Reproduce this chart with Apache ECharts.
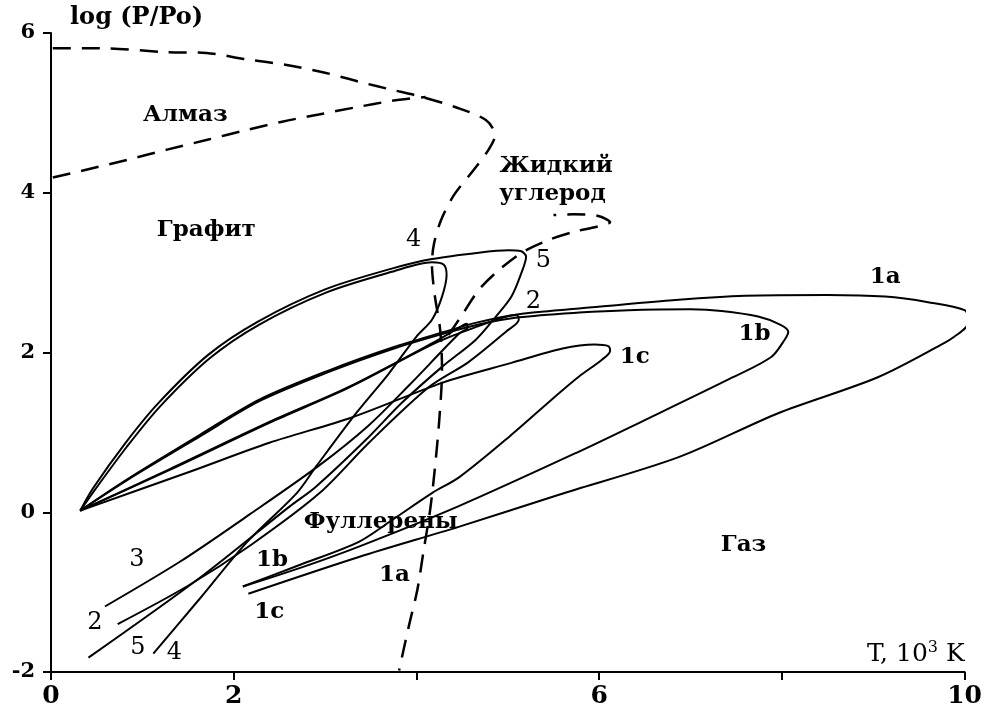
<!DOCTYPE html>
<html>
<head>
<meta charset="utf-8">
<title>Фазовая диаграмма углерода</title>
<script src="https://cdn.jsdelivr.net/npm/echarts@6/dist/echarts.min.js"></script>
<style>
  html, body { margin: 0; padding: 0; background: #fff; }
  #chart { width: 985px; height: 713px; }
</style>
</head>
<body>
<div id="chart"></div>
<script>
// x: T, 10^3 K ; y: log(P/Po)
const xLabelled = [0, 2, 6, 10]

// phase boundaries (dashed)
const boundaryMelt = [[0.02,5.81],[0.53,5.81],[1.27,5.76],[1.70,5.75],[2.14,5.67],[2.58,5.60],[3.01,5.50],[3.37,5.39],[3.73,5.29],[4.06,5.20],[4.43,5.07],[4.76,4.91],[4.86,4.72],[4.79,4.54],[4.63,4.29],[4.41,3.97],[4.27,3.66],[4.19,3.35],[4.17,3.10],[4.20,2.72],[4.26,2.28],[4.28,1.78],[4.25,1.16],[4.20,0.53],[4.15,0.03],[4.08,-0.47],[4.01,-0.97],[3.92,-1.41],[3.81,-1.98]]
const boundaryDiamond = [[0.02,4.19],[0.43,4.30],[0.83,4.41],[1.27,4.54],[1.70,4.66],[2.12,4.78],[2.53,4.89],[2.93,4.98],[3.34,5.07],[3.73,5.15],[4.10,5.20]]
const boundaryLiquid = [[4.35,2.22],[4.50,2.47],[4.68,2.78],[4.90,3.03],[5.17,3.26],[5.45,3.41],[5.72,3.51],[5.99,3.58],[6.12,3.63],[5.99,3.71],[5.72,3.73],[5.50,3.72]]

// trajectories (solid)
const curve1a = [[0.32,0.02],[0.83,0.41],[1.63,0.97],[2.28,1.41],[3.05,1.78],[3.73,2.06],[4.28,2.25],[4.68,2.38],[5.12,2.48],[5.78,2.55],[6.87,2.66],[7.60,2.71],[8.50,2.72],[9.13,2.70],[9.60,2.63],[10.0,2.53],[10.04,2.41],[10.01,2.31],[9.89,2.20],[9.78,2.12],[9.05,1.69],[7.96,1.24],[6.87,0.69],[5.56,0.22],[4.47,-0.18],[3.37,-0.56],[2.16,-1.02]]
const curve1b = [[0.32,0.02],[0.83,0.40],[1.63,0.95],[2.28,1.39],[3.05,1.76],[3.73,2.04],[4.28,2.23],[4.68,2.35],[5.12,2.44],[5.78,2.50],[6.32,2.53],[7.00,2.54],[7.34,2.52],[7.74,2.45],[7.98,2.35],[8.07,2.26],[8.03,2.16],[7.88,1.94],[7.41,1.66],[6.51,1.16],[5.78,0.76],[4.47,0.08],[3.37,-0.43],[2.72,-0.70],[2.10,-0.93]]
const curve1c = [[0.32,0.02],[1.55,0.52],[2.39,0.87],[3.30,1.19],[4.28,1.62],[5.04,1.87],[5.60,2.05],[5.95,2.10],[6.10,2.08],[6.12,2.02],[6.03,1.91],[5.78,1.70],[5.56,1.49],[5.01,0.94],[4.47,0.44],[4.17,0.24],[3.73,-0.10],[3.37,-0.37],[2.72,-0.66],[2.10,-0.93]]
const curve2 = [[0.32,0.02],[1.30,0.53],[2.39,1.12],[3.26,1.56],[4.21,2.12],[4.68,2.33],[4.96,2.44],[5.10,2.47],[5.12,2.41],[4.98,2.26],[4.57,1.88],[4.14,1.57],[3.48,0.87],[2.94,0.24],[2.20,-0.40],[1.50,-0.92],[0.73,-1.40]]
const curve3 = [[0.32,0.02],[1.30,0.54],[2.39,1.13],[3.26,1.57],[4.21,2.14],[4.45,2.30],[4.55,2.36],[4.56,2.31],[4.47,2.24],[3.92,1.59],[3.48,1.09],[2.94,0.59],[2.17,-0.03],[1.41,-0.62],[0.59,-1.18]]
const curve4 = [[0.32,0.02],[0.48,0.28],[0.83,0.82],[1.19,1.32],[1.74,1.93],[2.28,2.35],[3.01,2.75],[3.73,3.01],[4.17,3.13],[4.30,3.10],[4.33,2.97],[4.28,2.70],[4.17,2.41],[4.00,2.20],[3.70,1.74],[3.34,1.24],[2.90,0.57],[2.69,0.24],[2.14,-0.38],[1.63,-1.08],[1.12,-1.77]]
const curve5 = [[0.32,0.02],[0.46,0.30],[0.81,0.86],[1.17,1.36],[1.72,1.97],[2.27,2.39],[3.00,2.79],[3.73,3.05],[4.17,3.17],[4.68,3.25],[5.01,3.28],[5.14,3.27],[5.20,3.20],[5.15,3.00],[5.04,2.70],[4.87,2.45],[4.65,2.16],[4.28,1.82],[3.84,1.37],[3.45,0.91],[2.90,0.32],[2.61,0.07],[1.63,-0.82],[0.41,-1.82]]

// annotations [T, logP, text]
const regionNames = [[1.47,4.97,'Алмаз'],[1.70,3.53,'Графит'],[5.53,4.34,'Жидкий'],[5.49,3.98,'углерод'],[3.61,-0.12,'Фуллерены'],[7.58,-0.41,'Газ']]
const curveTags = [[9.13,2.95,'1a'],[7.70,2.23,'1b'],[6.39,1.94,'1c'],[2.42,-0.60,'1b'],[2.39,-1.25,'1c'],[3.76,-0.78,'1a']]
const numberTags = [[5.39,3.15,'5'],[5.28,2.63,'2'],[3.97,3.41,'4'],[0.94,-0.60,'3'],[0.48,-1.38,'2'],[0.95,-1.70,'5'],[1.35,-1.76,'4']]

const serif = 'DejaVu Serif'
const chart = echarts.init(document.getElementById('chart'))

function solid(data) {
  return {
    type: 'line', data: data, showSymbol: false, smooth: 0.3, clip: false, silent: true,
    lineStyle: { color: '#000', width: 2 }
  }
}
function dashed(data) {
  return {
    type: 'line', data: data, showSymbol: false, smooth: 0.3, clip: false, silent: true,
    lineStyle: { color: '#000', width: 2.5, type: [18, 11] }
  }
}
function tags(list, weight, size) {
  return {
    type: 'scatter', symbolSize: 0, silent: true,
    itemStyle: { color: '#000', opacity: 1 },
    data: list.map(d => ({ value: [d[0], d[1]], name: d[2] })),
    label: {
      show: true, position: [0, 0], align: 'center', verticalAlign: 'middle',
      formatter: p => p.name,
      color: '#000', textBorderWidth: 0,
      fontFamily: serif, fontWeight: weight, fontSize: size
    }
  }
}

chart.setOption({
  animation: false,
  grid: { left: 51, right: 18, top: 33, bottom: 41 },
  xAxis: {
    type: 'value', min: 0, max: 10, interval: 2,
    name: 'T, 10{s|3} K',
    nameLocation: 'end', nameGap: 0,
    nameTextStyle: {
      color: '#000', fontFamily: serif, fontSize: 25, align: 'right', verticalAlign: 'bottom',
      padding: [0, 0, 4, 0],
      rich: { s: { color: '#000', fontFamily: serif, fontSize: 16, verticalAlign: 'top', padding: [0, 0, 12, 0] } }
    },
    splitLine: { show: false },
    axisLine: { onZero: false, lineStyle: { color: '#000', width: 2 } },
    axisTick: { length: 8, lineStyle: { color: '#000', width: 2 } },
    axisLabel: {
      color: '#000', fontFamily: serif, fontWeight: 'bold', fontSize: 25, margin: 12,
      formatter: v => xLabelled.includes(v) ? String(v) : ''
    }
  },
  yAxis: {
    type: 'value', min: -2, max: 6, interval: 2,
    name: 'log (P/Po)',
    nameLocation: 'end', nameGap: 15,
    nameTextStyle: {
      color: '#000', fontFamily: serif, fontWeight: 'bold', fontSize: 24, align: 'left',
      verticalAlign: 'middle', padding: [0, 0, 0, 19]
    },
    splitLine: { show: false },
    axisLine: { onZero: false, lineStyle: { color: '#000', width: 2 } },
    axisTick: { length: 8, lineStyle: { color: '#000', width: 2 } },
    axisLabel: { color: '#000', fontFamily: serif, fontWeight: 'bold', fontSize: 21, margin: 16 }
  },
  series: [
    dashed(boundaryMelt), dashed(boundaryDiamond), dashed(boundaryLiquid),
    solid(curve1a), solid(curve1b), solid(curve1c),
    solid(curve2), solid(curve3), solid(curve4), solid(curve5),
    tags(regionNames, 'bold', 23),
    tags(curveTags, 'bold', 23),
    tags(numberTags, 'normal', 24)
  ]
})
</script>
</body>
</html>
